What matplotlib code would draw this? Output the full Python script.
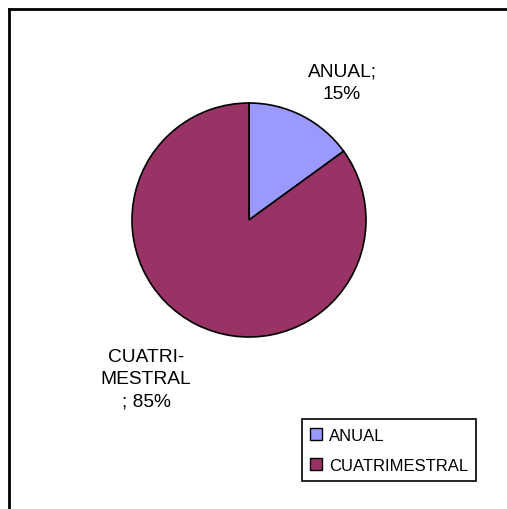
import matplotlib

matplotlib.use("Agg")
import matplotlib.pyplot as plt  # noqa: E402
from matplotlib.lines import Line2D  # noqa: E402

plt.rcParams["font.family"] = ["Liberation Sans", "DejaVu Sans"]

CATEGORIES = ["ANUAL", "CUATRIMESTRAL"]
SHARES = [15, 85]
SLICE_LABELS = ["ANUAL;\n15%", "CUATRI-\nMESTRAL\n; 85%"]
COLORS = ["#9999ff", "#993366"]

W, H = 507, 510
fig = plt.figure(figsize=(W / 100, H / 100), dpi=100, facecolor="white")
ax = fig.add_axes([0, 0, 1, 1])

wedges, _ = ax.pie(SHARES, colors=COLORS, startangle=90, counterclock=False,
                   center=(249, H - 221), radius=117,
                   wedgeprops=dict(edgecolor="black", linewidth=1.2))

# pie() rescales the axes, so fix pixel-like limits afterwards
ax.set_xlim(0, W)
ax.set_ylim(0, H)
ax.set_aspect("equal")
ax.axis("off")

# chart-area frame (only top/left edges visible in the crop)
ax.add_line(Line2D([9, 9], [0, H - 10], color="black", lw=2))
ax.add_line(Line2D([9, W], [H - 10, H - 10], color="black", lw=2))

ax.text(342, H - 83, SLICE_LABELS[0], ha="center", va="center",
        fontsize=13.8, linespacing=1.4)
ax.text(146, H - 380, SLICE_LABELS[1], ha="center", va="center",
        fontsize=13.8, linespacing=1.4)

leg = ax.legend(wedges, CATEGORIES, loc="lower left",
                bbox_to_anchor=(302 / W, 1 - 482 / H), borderaxespad=0,
                fontsize=12, frameon=True, fancybox=False, shadow=False,
                framealpha=1, handlelength=0.7, handleheight=0.7,
                handletextpad=0.4, labelspacing=0.9, borderpad=0.5,
                edgecolor="black")
leg.get_frame().set_linewidth(1.2)
for h in leg.legend_handles:
    h.set_linewidth(1.0)

fig.savefig("out.png", dpi=100, facecolor="white")
